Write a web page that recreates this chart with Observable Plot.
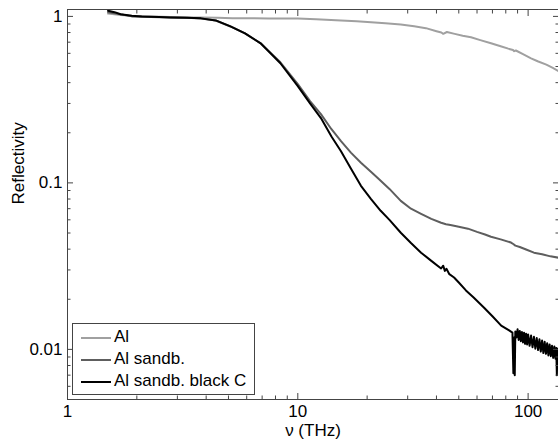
<!DOCTYPE html>
<html><head><meta charset="utf-8">
<script src="https://cdn.jsdelivr.net/npm/d3@7"></script>
<script src="https://cdn.jsdelivr.net/npm/@observablehq/plot@0.6"></script>
<style>
body{margin:0;background:#fff;}
#wrap{position:relative;width:558px;height:441px;font-family:"Liberation Sans",Arial,sans-serif;}
#legend{position:absolute;left:72px;top:323px;width:183px;height:72px;border:1px solid #444;background:#fff;box-sizing:border-box;}
.row{position:absolute;left:0;height:20px;font-size:17px;line-height:20px;color:#000;}
.sw{position:absolute;left:8px;top:10px;width:30px;height:2px;}
.lab{position:absolute;left:41px;top:0;white-space:nowrap;}
</style>
</head><body><div id="wrap"></div>
<script>
const seriesNames = ["Al", "Al sandb.", "Al sandb. black C"];
const seriesColors = ["#a0a0a0", "#5e5e5e", "#000000"];

const alFreq = [1.5, 1.7, 1.9, 2.3, 2.8, 3.3, 3.8, 4.5, 5.2, 6.2, 7.5, 8.5, 10, 12, 15.4, 18, 20.8, 24, 28, 32, 36, 40, 42, 42.8, 44.4, 48, 52, 56.5, 62, 69, 76, 82, 86, 87, 88.5, 95, 103, 110, 120, 128, 136];
const alR    = [1.04, 1.02, 1.01, 1.0, 0.99, 0.985, 0.985, 0.98, 0.975, 0.975, 0.972, 0.972, 0.97, 0.96, 0.946, 0.935, 0.921, 0.91, 0.895, 0.872, 0.85, 0.815, 0.80, 0.786, 0.806, 0.785, 0.765, 0.749, 0.72, 0.689, 0.662, 0.64, 0.628, 0.618, 0.624, 0.593, 0.56, 0.538, 0.513, 0.49, 0.468];

const sandFreq = [1.5, 1.7, 1.9, 2.3, 2.8, 3.3, 3.8, 4.4, 5.1, 5.9, 6.9, 8.4, 10, 11.3, 12.6, 14, 15.4, 17, 18.8, 21, 22.9, 25, 28, 31, 34.3, 38, 41.9, 44, 46, 50, 54.8, 60, 65, 69, 76, 84.3, 86.5, 88, 92, 98, 106, 115, 125, 136];
const sandR    = [1.06, 1.03, 1.0, 0.99, 0.985, 0.98, 0.972, 0.945, 0.87, 0.79, 0.688, 0.53, 0.392, 0.31, 0.259, 0.21, 0.178, 0.152, 0.132, 0.115, 0.103, 0.092, 0.078, 0.07, 0.0652, 0.0608, 0.0576, 0.0565, 0.0558, 0.0545, 0.0531, 0.0508, 0.049, 0.0475, 0.0458, 0.0438, 0.0428, 0.0420, 0.0412, 0.0398, 0.0381, 0.0373, 0.0362, 0.0355];

const blackFreq = [1.5, 1.6, 1.7, 1.9, 2.1, 2.5, 2.8, 3.3, 3.8, 4.4, 5.1, 5.9, 6.9, 8.4, 10, 11.3, 12.6, 14, 15.4, 17, 18.8, 20.8, 22.9, 25, 28, 31, 34.3, 38, 41.9, 42.8, 43.5, 44.2, 45.5, 47.7, 50, 53.7, 58, 64.4, 70, 76.4, 82.7, 85.5, 86.3, 86.9, 87.5,
  88, 89, 90, 91, 92, 93, 94, 95, 96, 97, 98, 99, 100, 101.5, 103, 104.5, 106, 107.5, 109, 110.5, 112, 113.5, 115, 116.5, 118, 119.5, 121, 122.5, 124, 125.5, 127, 128.5, 130, 131.5, 132.5, 133.3, 134, 135];
const blackR    = [1.08, 1.06, 1.03, 1.01, 1.0, 0.99, 0.986, 0.98, 0.973, 0.946, 0.871, 0.791, 0.689, 0.523, 0.381, 0.30, 0.245, 0.19, 0.155, 0.122, 0.096, 0.08, 0.068, 0.06, 0.0502, 0.0435, 0.0381, 0.034, 0.0306, 0.0318, 0.0296, 0.0305, 0.0283, 0.027, 0.0252, 0.0226, 0.0205, 0.0178, 0.0158, 0.0139, 0.0130, 0.0126, 0.0072, 0.0118, 0.0070,
  0.0128, 0.0118, 0.0132, 0.0114, 0.0129, 0.0112, 0.0127, 0.0110, 0.0126, 0.0108, 0.0124, 0.0107, 0.0123, 0.0105, 0.0121, 0.0103, 0.0119, 0.0101, 0.0117, 0.0099, 0.0115, 0.0097, 0.0113, 0.0095, 0.0111, 0.0094, 0.0109, 0.0092, 0.0107, 0.0091, 0.0105, 0.0089, 0.0104, 0.0088, 0.0102, 0.0070, 0.0101, 0.0090];

const xMajorTicks = [1, 10, 100];
const xMinorTicks = [2, 3, 4, 5, 6, 7, 8, 9, 20, 30, 40, 50, 60, 70, 80, 90];
const yMajorTicks = [0.01, 0.1, 1];
const yMinorTicks = [0.006, 0.007, 0.008, 0.009, 0.02, 0.03, 0.04, 0.05, 0.06, 0.07, 0.08, 0.09, 0.2, 0.3, 0.4, 0.5, 0.6, 0.7, 0.8, 0.9];

const xLabel = "ν (THz)";
const yLabel = "Reflectivity";

function rows(freq, r, name) { return freq.map((f, i) => ({f, r: r[i], name})); }
const allData = [
  rows(alFreq, alR, seriesNames[0]),
  rows(sandFreq, sandR, seriesNames[1]),
  rows(blackFreq, blackR, seriesNames[2])
];

const noLabel = () => "";
const plot = Plot.plot({
  width: 558, height: 441,
  marginLeft: 67, marginRight: 0, marginTop: 9, marginBottom: 42,
  style: {fontFamily: "Liberation Sans, Arial, sans-serif", fontSize: "17px", color: "#000", background: "#fff", overflow: "visible"},
  x: {type: "log", domain: [1, 135.5]},
  y: {type: "log", domain: [0.005, 1.1]},
  marks: [
    ...allData.map((d, i) => Plot.line(d, {x: "f", y: "r", stroke: seriesColors[i], strokeWidth: 2, strokeLinejoin: "round"})),
    Plot.axisX({anchor: "bottom", ticks: xMajorTicks, tickSize: 0, tickPadding: 5, tickFormat: d => String(d), label: null, fontSize: 17}),
    Plot.axisY({anchor: "left", ticks: yMajorTicks, tickSize: 0, tickPadding: 5, tickFormat: d => String(d), label: null, fontSize: 17}),
    Plot.axisX({anchor: "bottom", ticks: xMajorTicks, tickSize: -6, tickFormat: noLabel, label: null, stroke: "#444"}),
    Plot.axisX({anchor: "bottom", ticks: xMinorTicks, tickSize: -3.5, tickFormat: noLabel, label: null, stroke: "#444"}),
    Plot.axisX({anchor: "top", ticks: xMajorTicks, tickSize: -6, tickFormat: noLabel, label: null, stroke: "#444"}),
    Plot.axisX({anchor: "top", ticks: xMinorTicks, tickSize: -3.5, tickFormat: noLabel, label: null, stroke: "#444"}),
    Plot.axisY({anchor: "left", ticks: yMajorTicks, tickSize: -6, tickFormat: noLabel, label: null, stroke: "#444"}),
    Plot.axisY({anchor: "left", ticks: yMinorTicks, tickSize: -3.5, tickFormat: noLabel, label: null, stroke: "#444"}),
    Plot.axisY({anchor: "right", ticks: yMajorTicks, tickSize: -6, tickFormat: noLabel, label: null, stroke: "#444"}),
    Plot.axisY({anchor: "right", ticks: yMinorTicks, tickSize: -3.5, tickFormat: noLabel, label: null, stroke: "#444"}),
    Plot.frame({stroke: "#444"}),
    Plot.text([xLabel], {frameAnchor: "bottom", dy: 36, fontSize: 17}),
    Plot.text([yLabel], {frameAnchor: "left", dx: -49, rotate: -90, fontSize: 17})
  ]
});
const wrap = document.getElementById("wrap");
wrap.appendChild(plot);

const legend = document.createElement("div");
legend.id = "legend";
seriesNames.forEach((n, i) => {
  const row = document.createElement("div");
  row.className = "row";
  row.style.top = (3 + i * 22) + "px";
  row.style.width = "100%";
  const sw = document.createElement("div");
  sw.className = "sw";
  sw.style.background = seriesColors[i];
  const lab = document.createElement("div");
  lab.className = "lab";
  lab.textContent = n;
  row.appendChild(sw); row.appendChild(lab);
  legend.appendChild(row);
});
wrap.appendChild(legend);
</script>
</body></html>
